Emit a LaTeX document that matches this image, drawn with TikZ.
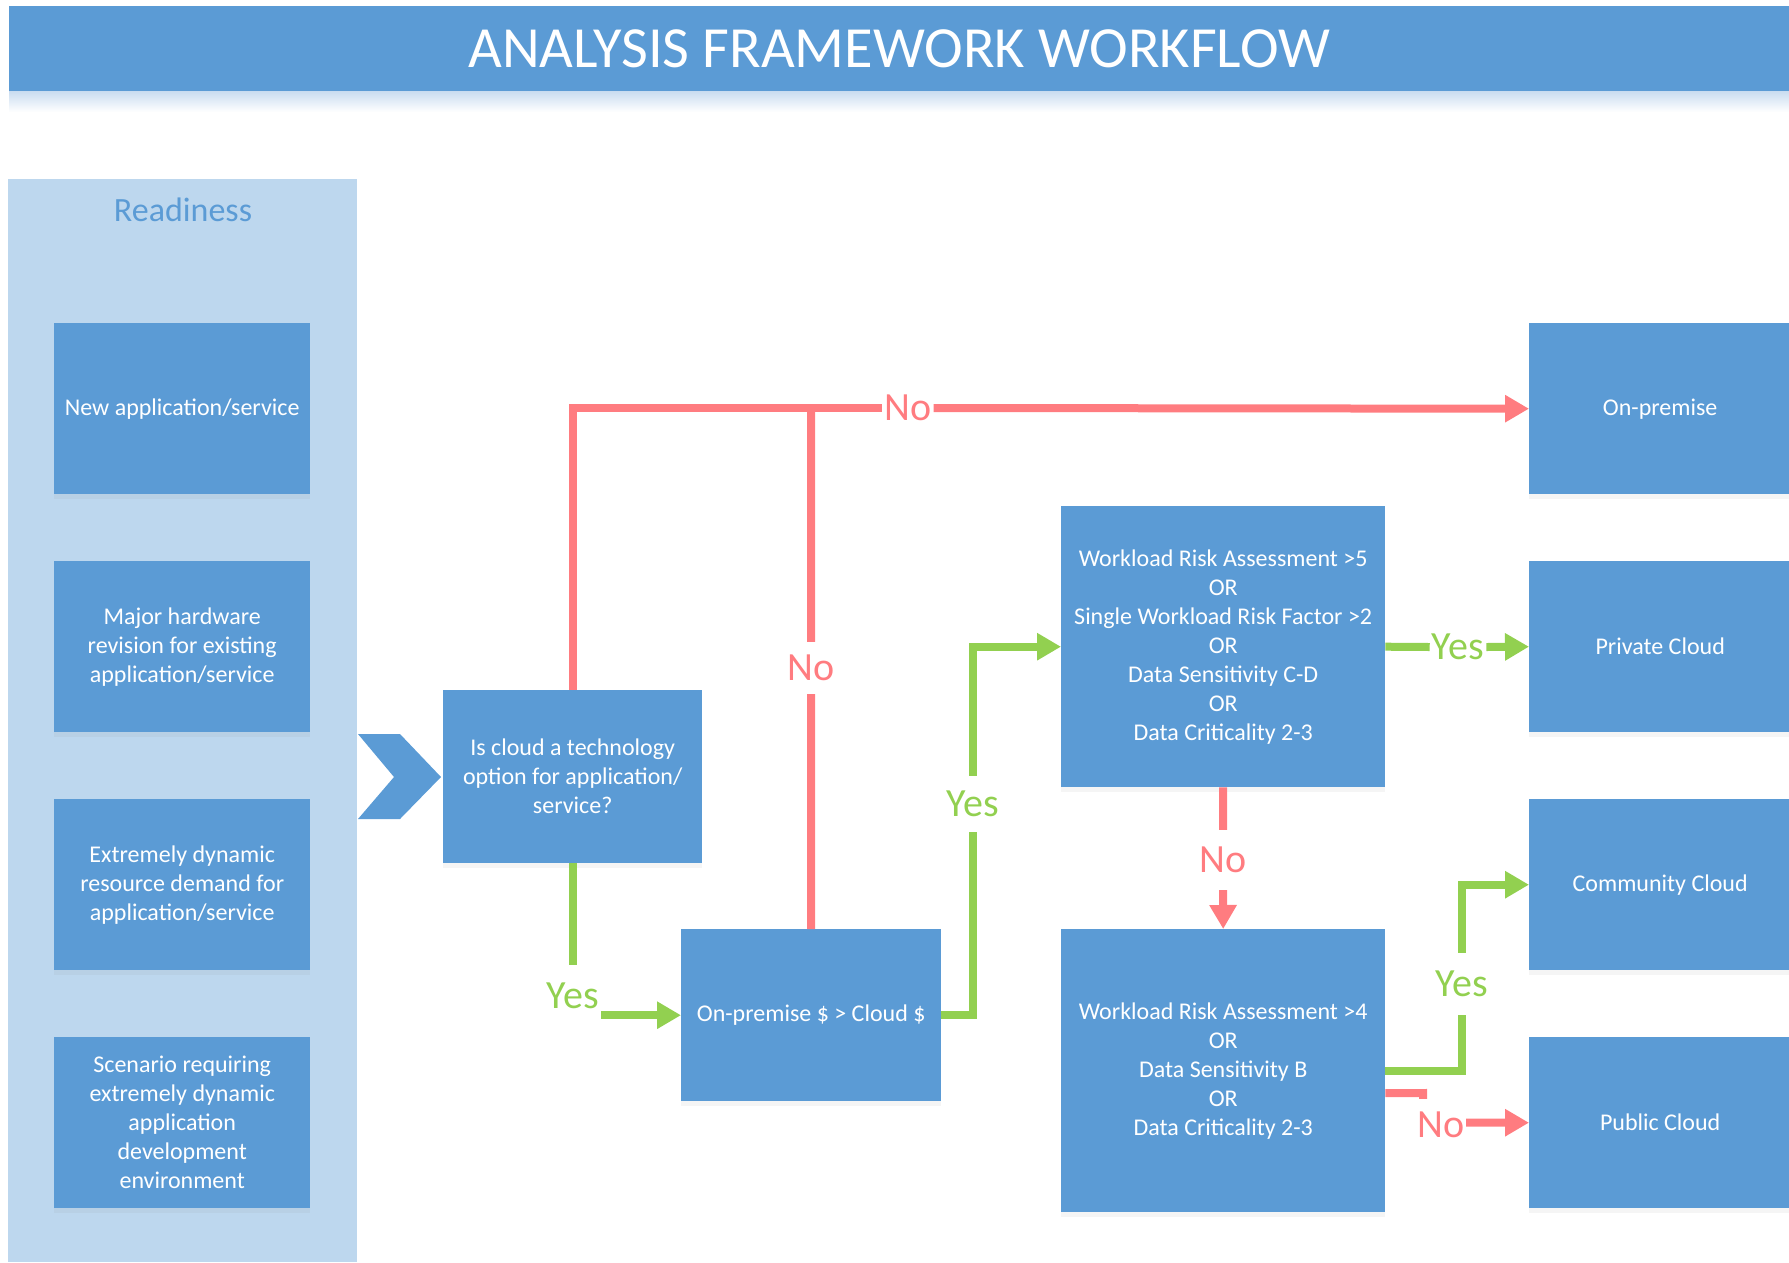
\documentclass[tikz,border=0pt]{standalone}
\usepackage{fontspec}
\setmainfont{Carlito}
\usetikzlibrary{arrows.meta,shadows}
\definecolor{boxblue}{HTML}{5B9BD5}
\definecolor{panelblue}{HTML}{BDD7EE}
\definecolor{readyblue}{HTML}{5B9BD5}
\definecolor{nored}{HTML}{FF7C80}
\definecolor{yesgreen}{HTML}{92D050}
\definecolor{titleshade}{HTML}{C9DCF0}
\begin{document}
\begin{tikzpicture}[x=1pt,y=-1pt,
  box/.style={fill=boxblue, text=white, align=center, anchor=north west, inner sep=0pt,
    font=\fontsize{24}{29}\selectfont,
    drop shadow={opacity=0.08, shadow xshift=0pt, shadow yshift=-5pt}},
  titlebar/.style={fill=boxblue, text=white, anchor=north west, inner sep=0pt,
    font=\fontsize{58.3}{60}\selectfont},
  redline/.style={draw=nored, line width=8pt},
  greenline/.style={draw=yesgreen, line width=8pt},
  tip/.style={-{Triangle[length=24pt,width=26pt]}},
  nolabel/.style={text=nored, font=\fontsize{40}{40}\selectfont, inner xsep=2pt},
  yeslabel/.style={text=yesgreen, font=\fontsize{40}{40}\selectfont, inner xsep=2pt},
]
\useasboundingbox (0,0) rectangle (1789,1262);

% title
\shade[top color=titleshade, bottom color=white] (9,91) rectangle (1789,112);
\node[titlebar, minimum width=1780pt, minimum height=85pt] (title) at (9,6) {ANALYSIS FRAMEWORK WORKFLOW};

% readiness panel
\node[fill=panelblue, anchor=north west, inner sep=0pt, minimum width=349pt, minimum height=1083pt] (panel) at (8,179) {};
\node[text=readyblue, font=\fontsize{34}{34}\selectfont] (ready) at (183,210) {Readiness};

\node[box, minimum width=256pt, minimum height=171pt] (l1) at (54,323) {New application/service};
\node[box, minimum width=256pt, minimum height=171pt] (l2) at (54,561) {Major hardware\\revision for existing\\application/service};
\node[box, minimum width=256pt, minimum height=171pt] (l3) at (54,799) {Extremely dynamic\\resource demand for\\application/service};
\node[box, minimum width=256pt, minimum height=171pt] (l4) at (54,1037) {Scenario requiring\\extremely dynamic\\application\\development\\environment};

% chevron
\fill[boxblue] (358,734) -- (400,734) -- (441,777) -- (400,819) -- (358,819) -- (394,777) -- cycle;

% process boxes
\node[box, minimum width=259pt, minimum height=173pt] (q) at (443,690) {Is cloud a technology\\option for application/\\service?};
\node[box, minimum width=260pt, minimum height=172pt] (op) at (681,929) {On-premise \$ > Cloud \$};
\node[box, minimum width=324pt, minimum height=281pt] (wl1) at (1061,506) {Workload Risk Assessment >5\\OR\\Single Workload Risk Factor >2\\OR\\Data Sensitivity C-D\\OR\\Data Criticality 2-3};
\node[box, minimum width=324pt, minimum height=283pt] (wl2) at (1061,929) {Workload Risk Assessment >4\\OR\\Data Sensitivity B\\OR\\Data Criticality 2-3};

% outcomes
\node[box, minimum width=262pt, minimum height=171pt] (onprem) at (1529,323) {On-premise};
\node[box, minimum width=262pt, minimum height=171pt] (private) at (1529,561) {Private Cloud};
\node[box, minimum width=262pt, minimum height=171pt] (community) at (1529,799) {Community Cloud};
\node[box, minimum width=262pt, minimum height=171pt] (public) at (1529,1037) {Public Cloud};

% labels
\node[nolabel] (no1) at (908,408) {No};
\node[nolabel, inner ysep=13pt] (no2) at (811,668) {No};
\node[yeslabel, inner ysep=18pt] (yes1) at (573,996) {Yes};
\node[yeslabel, inner ysep=15pt] (yes2) at (973,804) {Yes};
\node[yeslabel] (yes3) at (1458,647) {Yes};
\node[nolabel, inner ysep=17pt] (no3) at (1223,860) {No};
\node[yeslabel, inner ysep=18pt] (yes4) at (1462,984) {Yes};

% connectors
\draw[redline] (q.north) |- (no1.west);
\draw[redline, tip] (no1.east) -- (onprem.west);
\draw[redline] (op.north) -- (no2.south);
\draw[redline] (no2.north) -- (op.north |- no1.center);

\draw[greenline] (q.south) -- (q.south |- yes1.north);
\draw[greenline, tip] (yes1.east |- op.west) -- (op.west);

\draw[greenline] (op.east) -| (yes2.south);
\draw[greenline, tip] (yes2.north) |- (wl1.west);

\draw[greenline] (wl1.east) -- (yes3.west);
\draw[greenline, tip] (yes3.east) -- (private.west);

\draw[redline] (wl1.south) -- (no3.north);
\draw[redline, tip] (no3.south) -- (wl2.north);

\draw[greenline] (wl2.east) -| (yes4.south);
\draw[greenline, tip] (yes4.north) |- (community.west);

\coordinate (stub) at (1423,1093);
\draw[redline, tip] ([yshift=-22.5pt]wl2.east) -- (stub) |- (public.west);
\node[nolabel, fill=white, minimum height=52pt] (no5) at (1441,1125) {No};
\end{tikzpicture}
\end{document}
